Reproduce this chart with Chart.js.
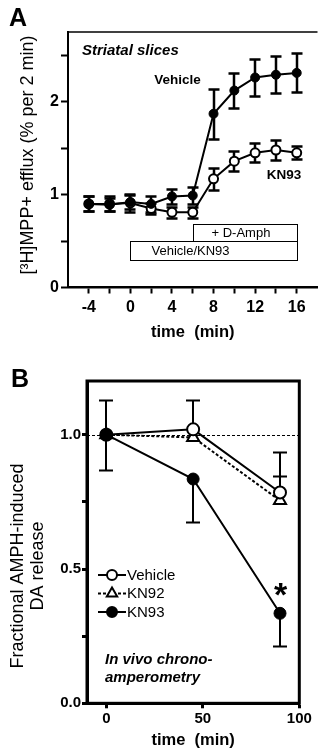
<!DOCTYPE html>
<html>
<head>
<meta charset="utf-8">
<script src="https://cdn.jsdelivr.net/npm/chart.js@4.4.1/dist/chart.umd.min.js"></script>
<style>
  html, body { margin: 0; padding: 0; background: #fff; overflow: hidden; }
  #wrap { position: relative; width: 324px; height: 751px; }
  canvas { position: absolute; left: 0; }
  #chartA { top: 0; }
  #chartB { top: 360px; }
</style>
</head>
<body>
<div id="wrap">
  <canvas id="chartA" width="324" height="360"></canvas>
  <canvas id="chartB" width="324" height="391"></canvas>
</div>
<script>
// Panel A - striatal slices
const timeA = [-4, -2, 0, 2, 4, 6, 8, 10, 12, 14, 16];
const vehicleA = [0.90, 0.89, 0.92, 0.90, 0.98, 0.99, 1.87, 2.12, 2.26, 2.29, 2.31];
const vehicleErrA = [0.08, 0.07, 0.08, 0.09, 0.08, 0.09, 0.27, 0.19, 0.20, 0.20, 0.21];
const kn93A = [0.90, 0.90, 0.91, 0.85, 0.81, 0.81, 1.17, 1.36, 1.45, 1.48, 1.45];
const kn93ErrA = [0.08, 0.08, 0.10, 0.06, 0.06, 0.06, 0.12, 0.11, 0.10, 0.11, 0.07];
const xTicksA = [-4, -2, 0, 2, 4, 6, 8, 10, 12, 14, 16];
const yTicksA = [0, 0.5, 1, 1.5, 2, 2.5];
const treatLabels = ['+ D-Amph', 'Vehicle/KN93'];
const treatStart = [6, 0];
const treatEnd = [16, 16];

// Panel B - in vivo chronoamperometry
const timeB = [0, 45, 90];
const vehicleB = [1.0, 1.02, 0.785];
const vehicleErrUpB = [0, 0.11, 0.15];
const kn92B = [1.0, 0.99, 0.755];
const kn92ErrUpB = [0, 0, 0.09];
const kn93B = [1.0, 0.835, 0.335];
const kn93ErrUpB = [0.13, 0, 0];
const kn93ErrDownB = [0.13, 0.16, 0.12];
const xTicksB = [0, 50, 100];
const yTicksB = [0, 0.25, 0.5, 0.75, 1.0];

Chart.defaults.font.family = '"Liberation Sans", Arial, sans-serif';
Chart.defaults.color = '#000';

const FONT = '"Liberation Sans", Arial, sans-serif';
const pts = (xs, ys) => xs.map((x, i) => ({ x: x, y: ys[i] }));

// error bars, drawn under the markers
const errorBars = {
    id: 'errorBars',
    beforeDatasetsDraw(chart, args, opts) {
        const ctx = chart.ctx;
        const y = chart.scales.y;
        ctx.save();
        ctx.strokeStyle = '#000';
        ctx.lineWidth = opts.width;
        chart.data.datasets.forEach((ds, i) => {
            chart.getDatasetMeta(i).data.forEach((pt, j) => {
                const v = ds.data[j].y;
                const up = ds.errUp ? ds.errUp[j] : 0;
                const down = ds.errDown ? ds.errDown[j] : 0;
                [[up, 1], [down, -1]].forEach(([e, s]) => {
                    if (!e) return;
                    const py = Math.round(y.getPixelForValue(v + s * e)) + 0.5;
                    const px = Math.round(pt.x);
                    ctx.beginPath();
                    ctx.moveTo(px, pt.y);
                    ctx.lineTo(px, py);
                    ctx.moveTo(px - opts.cap / 2, py);
                    ctx.lineTo(px + opts.cap / 2, py);
                    ctx.stroke();
                });
            });
        });
        ctx.restore();
    }
};

const panelA = {
    id: 'panelA',
    beforeDatasetsDraw(chart) {
        const { ctx, chartArea: a, scales: { x, y } } = chart;
        ctx.save();
        ctx.strokeStyle = '#000';
        ctx.lineWidth = 1.5;
        ctx.beginPath();
        ctx.moveTo(a.left, a.top);
        ctx.lineTo(a.right, a.top);
        ctx.stroke();

        // treatment bars
        const rows = [[0.5, 0.685], [0.3, 0.5]];
        ctx.lineWidth = 1;
        ctx.fillStyle = '#000';
        ctx.font = '13px ' + FONT;
        ctx.textBaseline = 'middle';
        ctx.textAlign = 'left';
        treatLabels.forEach((lab, i) => {
            const x0 = Math.round(x.getPixelForValue(treatStart[i])) + 0.5;
            const x1 = Math.round(x.getPixelForValue(treatEnd[i])) + 0.5;
            const y0 = Math.round(y.getPixelForValue(rows[i][1])) + 0.5;
            const y1 = Math.round(y.getPixelForValue(rows[i][0])) + 0.5;
            ctx.strokeRect(x0, y0, x1 - x0, y1 - y0);
            ctx.fillText(lab, x0 + (i === 0 ? 18 : 21), (y0 + y1) / 2 + 0.5);
        });
        ctx.restore();
    },
    afterDraw(chart) {
        const ctx = chart.ctx;
        ctx.save();
        ctx.fillStyle = '#000';
        ctx.textAlign = 'left';
        ctx.textBaseline = 'alphabetic';
        ctx.font = 'bold 25px ' + FONT;
        ctx.fillText('A', 9, 26);

        ctx.textBaseline = 'middle';
        ctx.font = 'italic bold 15px ' + FONT;
        ctx.fillText('Striatal slices', 82, 51);
        ctx.font = 'bold 13.5px ' + FONT;
        ctx.textAlign = 'center';
        ctx.fillText('Vehicle', 177.5, 80);
        ctx.fillText('KN93', 284, 175);

        ctx.font = '18px ' + FONT;
        ctx.translate(28, 155);
        ctx.rotate(-Math.PI / 2);
        ctx.fillText('[\u00B3H]MPP+ efflux (% per 2 min)', 0, 0);
        ctx.restore();
    }
};

const panelB = {
    id: 'panelB',
    beforeDatasetsDraw(chart) {
        const { ctx, chartArea: a, scales: { y } } = chart;
        ctx.save();
        // dashed reference at 1.0
        const py = Math.round(y.getPixelForValue(1.0)) + 0.5;
        ctx.strokeStyle = '#000';
        ctx.lineWidth = 1;
        ctx.setLineDash([3, 2]);
        ctx.beginPath();
        ctx.moveTo(a.left, py);
        ctx.lineTo(a.right, py);
        ctx.stroke();
        ctx.setLineDash([]);
        // frame
        ctx.lineWidth = 3;
        ctx.strokeRect(a.left, a.top, a.right - a.left, a.bottom - a.top);
        ctx.restore();
    },
    afterDraw(chart) {
        const ctx = chart.ctx;
        ctx.save();
        ctx.fillStyle = '#000';
        ctx.strokeStyle = '#000';
        ctx.textAlign = 'left';
        ctx.textBaseline = 'alphabetic';
        ctx.font = 'bold 25px ' + FONT;
        ctx.fillText('B', 11, 27);

        // legend
        ctx.textBaseline = 'middle';
        ctx.font = '15px ' + FONT;
        chart.data.datasets.forEach((ds, i) => {
            const ly = 215 + i * 18.5;
            ctx.lineWidth = 2;
            ctx.setLineDash(ds.borderDash || []);
            ctx.beginPath();
            ctx.moveTo(98, ly);
            ctx.lineTo(126, ly);
            ctx.stroke();
            ctx.setLineDash([]);
            ctx.fillStyle = ds.pointBackgroundColor;
            Chart.helpers.drawPoint(ctx, {
                pointStyle: ds.pointStyle,
                radius: ds.pointStyle === 'triangle' ? 6 : 5,
                borderWidth: 2,
                rotation: 0
            }, 112, ly);
            ctx.fillStyle = '#000';
            ctx.fillText(ds.label, 127, ly + 0.5);
        });

        ctx.font = 'italic bold 15px ' + FONT;
        ctx.fillText('In vivo chrono-', 105, 300);
        ctx.fillText('amperometry', 105, 318);

        ctx.textAlign = 'center';
        ctx.textBaseline = 'alphabetic';
        ctx.font = 'bold 34px ' + FONT;
        ctx.fillText('*', 280.5, 246);

        ctx.textBaseline = 'middle';
        ctx.font = '18px ' + FONT;
        ctx.translate(18, 206);
        ctx.rotate(-Math.PI / 2);
        ctx.fillText('Fractional AMPH-induced', 0, 0);
        ctx.fillText('DA release', 0, 20);
        ctx.restore();
    }
};

// Panel A chart
new Chart(document.getElementById('chartA'), {
    type: 'line',
    data: {
        datasets: [{
            label: 'Vehicle',
            data: pts(timeA, vehicleA),
            errUp: vehicleErrA,
            errDown: vehicleErrA,
            borderColor: '#000',
            borderWidth: 2,
            pointRadius: 4.5,
            pointBorderWidth: 1,
            pointBackgroundColor: '#000',
            pointBorderColor: '#000'
        }, {
            label: 'KN93',
            data: pts(timeA, kn93A),
            errUp: kn93ErrA,
            errDown: kn93ErrA,
            borderColor: '#000',
            borderWidth: 2,
            pointRadius: 4.5,
            pointBorderWidth: 2,
            pointBackgroundColor: '#fff',
            pointBorderColor: '#000'
        }]
    },
    options: {
        responsive: false,
        animation: false,
        events: [],
        layout: { padding: { top: 32, right: 0, bottom: 0, left: 0 } },
        plugins: {
            legend: { display: false },
            tooltip: { enabled: false },
            errorBars: { width: 2.5, cap: 11 }
        },
        scales: {
            x: {
                type: 'linear',
                min: -6,
                max: 18,
                afterBuildTicks: s => { s.ticks = xTicksA.map(v => ({ value: v })); },
                afterFit: s => { s.height = 72.5; },
                ticks: {
                    autoSkip: false,
                    maxRotation: 0,
                    padding: 4,
                    color: '#000',
                    font: { size: 16, weight: 'bold' },
                    callback: v => (v % 4 === 0 ? v : '')
                },
                grid: { drawOnChartArea: false, tickLength: 6, tickWidth: 2, tickColor: '#000' },
                border: { color: '#000', width: 2.5 },
                title: {
                    display: true,
                    text: 'time  (min)',
                    color: '#000',
                    font: { size: 16.5, weight: 'bold' },
                    padding: { top: 0, bottom: 18 }
                }
            },
            y: {
                min: 0,
                max: 2.75,
                afterBuildTicks: s => { s.ticks = yTicksA.map(v => ({ value: v })); },
                afterFit: s => { s.width = 68; },
                ticks: {
                    autoSkip: false,
                    padding: 2,
                    color: '#000',
                    font: { size: 16, weight: 'bold' },
                    callback: v => (Number.isInteger(v) ? v : '')
                },
                grid: { drawOnChartArea: false, tickLength: 7, tickWidth: 2, tickColor: '#000' },
                border: { color: '#000', width: 2 }
            }
        }
    },
    plugins: [errorBars, panelA]
});

// Panel B chart
new Chart(document.getElementById('chartB'), {
    type: 'line',
    data: {
        datasets: [{
            label: 'Vehicle',
            data: pts(timeB, vehicleB),
            errUp: vehicleErrUpB,
            order: 1,
            borderColor: '#000',
            borderWidth: 2,
            pointStyle: 'circle',
            pointRadius: 6,
            pointBorderWidth: 2,
            pointBackgroundColor: '#fff',
            pointBorderColor: '#000'
        }, {
            label: 'KN92',
            data: pts(timeB, kn92B),
            errUp: kn92ErrUpB,
            order: 2,
            borderColor: '#000',
            borderWidth: 2,
            borderDash: [3, 2],
            pointStyle: 'triangle',
            pointRadius: 7,
            pointBorderWidth: 2,
            pointBackgroundColor: '#fff',
            pointBorderColor: '#000'
        }, {
            label: 'KN93',
            data: pts(timeB, kn93B),
            errUp: kn93ErrUpB,
            errDown: kn93ErrDownB,
            order: 0,
            borderColor: '#000',
            borderWidth: 2,
            pointStyle: 'circle',
            pointRadius: 6,
            pointBorderWidth: 1,
            pointBackgroundColor: '#000',
            pointBorderColor: '#000'
        }]
    },
    options: {
        responsive: false,
        animation: false,
        events: [],
        layout: { padding: { top: 21, right: 24.7, bottom: 0, left: 0 } },
        plugins: {
            legend: { display: false },
            tooltip: { enabled: false },
            errorBars: { width: 2, cap: 14 }
        },
        scales: {
            x: {
                type: 'linear',
                min: -10,
                max: 100,
                afterBuildTicks: s => { s.ticks = xTicksB.map(v => ({ value: v })); },
                afterFit: s => { s.height = 47.7; },
                ticks: {
                    autoSkip: false,
                    maxRotation: 0,
                    padding: 2,
                    color: '#000',
                    font: { size: 15, weight: 'bold' }
                },
                grid: { drawOnChartArea: false, tickLength: 5, tickWidth: 3, tickColor: '#000' },
                border: { color: '#000', width: 3 },
                title: {
                    display: true,
                    text: 'time  (min)',
                    color: '#000',
                    font: { size: 16.5, weight: 'bold' },
                    padding: { top: 0, bottom: 1 }
                }
            },
            y: {
                min: 0,
                max: 1.2,
                afterBuildTicks: s => { s.ticks = yTicksB.map(v => ({ value: v })); },
                afterFit: s => { s.width = 87; },
                ticks: {
                    autoSkip: false,
                    padding: 1,
                    color: '#000',
                    font: { size: 15, weight: 'bold' },
                    callback: v => (v % 0.5 === 0 ? v.toFixed(1) : '')
                },
                grid: { drawOnChartArea: false, tickLength: 5, tickWidth: 3, tickColor: '#000' },
                border: { color: '#000', width: 3 }
            }
        }
    },
    plugins: [errorBars, panelB]
});
</script>
</body>
</html>
